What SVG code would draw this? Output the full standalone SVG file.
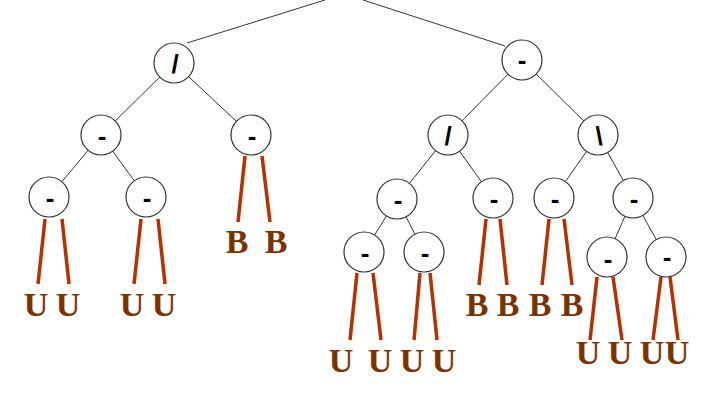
<svg xmlns="http://www.w3.org/2000/svg" width="712" height="404" viewBox="0 0 712 404">
<style>
.n{fill:#fff;stroke:#333;stroke-width:1.2}
.op{font-family:"Liberation Sans",sans-serif;font-weight:bold;font-size:26px;text-anchor:middle}
.e{stroke:#000;stroke-width:0.8}
.r{stroke:#b83000;stroke-width:3.5}
.l{font-family:"Liberation Serif",serif;font-weight:bold;font-size:34px;fill:#7a3300;text-anchor:middle}
</style>
<rect width="712" height="404" fill="#fff"/>
<g id="connectors">
<line class="e" x1="325" y1="0" x2="187" y2="43"/>
<line class="e" x1="363" y1="0" x2="505" y2="46"/>
<line class="e" x1="174" y1="63" x2="101" y2="135"/>
<line class="e" x1="174" y1="63" x2="251" y2="135"/>
<line class="e" x1="522" y1="60" x2="448" y2="135"/>
<line class="e" x1="522" y1="60" x2="598" y2="135"/>
<line class="e" x1="101" y1="135" x2="49" y2="197"/>
<line class="e" x1="101" y1="135" x2="146" y2="197"/>
<line class="e" x1="448" y1="135" x2="397" y2="199"/>
<line class="e" x1="448" y1="135" x2="493" y2="198"/>
<line class="e" x1="598" y1="135" x2="554" y2="198"/>
<line class="e" x1="598" y1="135" x2="633" y2="198"/>
<line class="e" x1="397" y1="199" x2="364" y2="252"/>
<line class="e" x1="397" y1="199" x2="424" y2="252"/>
<line class="e" x1="633" y1="198" x2="607" y2="257"/>
<line class="e" x1="633" y1="198" x2="666" y2="257"/>
<line class="r" x1="45" y1="219" x2="38" y2="284"/>
<line class="r" x1="62" y1="219" x2="69" y2="284"/>
<line class="r" x1="141" y1="219" x2="134" y2="284"/>
<line class="r" x1="158" y1="219" x2="165" y2="284"/>
<line class="r" x1="245" y1="156" x2="238" y2="222"/>
<line class="r" x1="262" y1="156" x2="270" y2="222"/>
<line class="r" x1="357" y1="273" x2="350" y2="340"/>
<line class="r" x1="373" y1="273" x2="381" y2="340"/>
<line class="r" x1="420" y1="273" x2="414" y2="340"/>
<line class="r" x1="430" y1="273" x2="437" y2="340"/>
<line class="r" x1="486" y1="219" x2="479" y2="285"/>
<line class="r" x1="500" y1="219" x2="507" y2="285"/>
<line class="r" x1="549" y1="219" x2="542" y2="285"/>
<line class="r" x1="564" y1="219" x2="572" y2="285"/>
<line class="r" x1="597" y1="277" x2="590" y2="340"/>
<line class="r" x1="613" y1="277" x2="622" y2="340"/>
<line class="r" x1="661" y1="277" x2="653" y2="340"/>
<line class="r" x1="670" y1="277" x2="678" y2="340"/>
</g>
<g id="nA"><circle class="n" cx="174" cy="63" r="20"/><text class="op" x="175" y="73" font-weight="normal" font-size="24">/</text></g>
<g id="nB"><circle class="n" cx="522" cy="60" r="20"/><text class="op" x="522" y="69">-</text></g>
<g id="nC"><circle class="n" cx="101" cy="135" r="20"/><text class="op" x="102" y="145">-</text></g>
<g id="nD"><circle class="n" cx="251" cy="135" r="20"/><text class="op" x="252" y="145">-</text></g>
<g id="nE"><circle class="n" cx="448" cy="135" r="20"/><text class="op" x="448" y="145" font-weight="normal" font-size="24">/</text></g>
<g id="nF"><circle class="n" cx="598" cy="135" r="20"/><text class="op" x="599" y="145" font-weight="normal" font-size="24">\</text></g>
<g id="nG"><circle class="n" cx="49" cy="197" r="20"/><text class="op" x="50" y="207">-</text></g>
<g id="nH"><circle class="n" cx="146" cy="197" r="20"/><text class="op" x="147" y="207">-</text></g>
<g id="nI"><circle class="n" cx="397" cy="199" r="20"/><text class="op" x="398" y="209">-</text></g>
<g id="nJ"><circle class="n" cx="493" cy="198" r="20"/><text class="op" x="494" y="208">-</text></g>
<g id="nK"><circle class="n" cx="554" cy="198" r="20"/><text class="op" x="555" y="208">-</text></g>
<g id="nL"><circle class="n" cx="633" cy="198" r="20"/><text class="op" x="634" y="208">-</text></g>
<g id="nM"><circle class="n" cx="364" cy="252" r="20"/><text class="op" x="365" y="262">-</text></g>
<g id="nN"><circle class="n" cx="424" cy="252" r="20"/><text class="op" x="425" y="262">-</text></g>
<g id="nO"><circle class="n" cx="607" cy="257" r="20"/><text class="op" x="608" y="268">-</text></g>
<g id="nP"><circle class="n" cx="666" cy="257" r="20"/><text class="op" x="667" y="266">-</text></g>
<g id="leaves">
<text class="l" x="36" y="316">U</text><text class="l" x="68" y="316">U</text>
<text class="l" x="132" y="316">U</text><text class="l" x="164" y="316">U</text>
<text class="l" x="237" y="253">B</text><text class="l" x="276" y="253">B</text>
<text class="l" x="341" y="372">U</text><text class="l" x="380" y="372">U</text>
<text class="l" x="412" y="372">U</text><text class="l" x="444" y="372">U</text>
<text class="l" x="477" y="316">B</text><text class="l" x="508" y="316">B</text>
<text class="l" x="540" y="316">B</text><text class="l" x="572" y="316">B</text>
<text class="l" x="588" y="364">U</text><text class="l" x="620" y="364">U</text>
<text class="l" x="652" y="364">U</text><text class="l" x="677" y="364">U</text>
</g>
</svg>
